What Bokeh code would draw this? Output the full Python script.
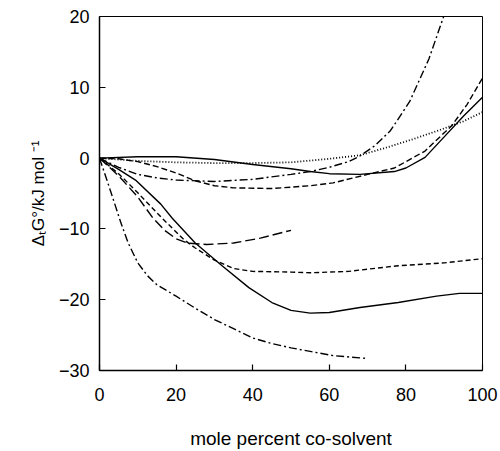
from bokeh.plotting import figure
from bokeh.models import Range1d
from bokeh.embed import file_html
from bokeh.resources import INLINE

# solid (upper)
xa = [0, 10, 20, 30, 40, 50, 55, 60, 68, 77, 80, 85, 90, 95, 100]
ya = [0, 0.2, 0.2, -0.2, -0.9, -1.5, -1.9, -2.2, -2.3, -1.9, -1.4, 0.1, 3.0, 5.9, 8.6]
# dotted
xdot = [0, 10, 20, 30, 40, 50, 60, 68, 75, 82, 89, 95, 100]
ydot = [0, -0.4, -0.6, -0.7, -0.7, -0.6, -0.1, 0.4, 1.5, 2.7, 4.0, 5.2, 6.5]
# dashed (upper, ends at ~11)
xb = [0, 5, 10, 15, 20, 25, 30, 35, 45, 55, 61, 70, 77, 85, 92, 96, 100]
yb = [0, -0.1, -0.5, -1.2, -2.1, -3.2, -3.9, -4.2, -4.3, -3.9, -3.5, -2.3, -1.4, 1.0, 4.6, 7.6, 11.3]
# dash-dot (steep rise)
xf = [0, 5, 10, 15, 20, 30, 40, 50, 55, 60, 65, 68, 72, 76, 81, 86, 90.5]
yf = [0, -1.3, -2.3, -2.8, -3.1, -3.3, -3.0, -2.3, -1.9, -1.3, -0.5, 0.3, 1.8, 3.9, 8.0, 14.0, 21.0]
# solid (lower)
xs = [0, 5, 9.4, 16, 19, 25, 32, 39, 45, 50, 55, 60, 68, 78, 88, 94, 100]
ys = [0, -1.6, -3.1, -6.5, -8.5, -12, -15.2, -18.3, -20.4, -21.5, -21.9, -21.8, -21.1, -20.4, -19.5, -19.1, -19.1]
# short dashed (lower)
xc = [0, 5, 10, 16, 22, 25, 30, 35, 40, 50, 55, 65, 78, 90, 100]
yc = [0, -2.2, -4.9, -8.3, -11.5, -12.7, -14.4, -15.6, -16.0, -16.1, -16.2, -16.0, -15.2, -14.8, -14.2]
# long dashed (ends at 50)
xd = [0, 5, 10, 14, 17, 20, 23, 28, 35, 42, 50]
yd = [0, -2.5, -5.5, -8.5, -10.2, -11.4, -12.0, -12.2, -12.0, -11.3, -10.2]
# dash-dot (lowest)
xe = [0, 2, 4, 5.5, 7.5, 10, 12.5, 15, 20, 25, 30, 35, 40, 45, 50, 55, 61, 70]
ye = [0, -3.2, -6.5, -9, -12, -14.8, -16.6, -17.9, -19.5, -21.2, -22.8, -24.1, -25.4, -26.2, -26.8, -27.3, -27.9, -28.3]

xticks = [0, 20, 40, 60, 80, 100]
yticks = [-30, -20, -10, 0, 10, 20]

p = figure(width=500, height=451, x_range=Range1d(0, 100), y_range=Range1d(-30, 20),
           output_backend="svg", toolbar_location=None,
           min_border_left=99, min_border_right=18, min_border_top=16, min_border_bottom=79)
p.background_fill_color = "white"
p.border_fill_color = "white"
p.outline_line_color = "black"
p.outline_line_width = 1
p.xgrid.visible = False
p.ygrid.visible = False

FONT = "Liberation Sans"
for ax in (p.xaxis[0], p.yaxis[0]):
    ax.major_tick_in = 6
    ax.major_tick_out = 0
    ax.minor_tick_in = 0
    ax.minor_tick_out = 0
    ax.axis_line_color = "black"
    ax.axis_line_width = 1.5
    ax.major_tick_line_color = "black"
    ax.major_tick_line_width = 1.2
    ax.major_label_text_font = FONT
    ax.major_label_text_font_size = "18px"
    ax.major_label_text_color = "black"
    ax.axis_label_text_font = FONT
    ax.axis_label_text_font_style = "normal"
    ax.axis_label_text_color = "black"

p.xaxis.ticker = xticks
p.yaxis.ticker = yticks
p.xaxis.axis_label = "mole percent co-solvent"
p.xaxis.axis_label_text_font_size = "19px"
p.xaxis.major_label_standoff = 17
p.xaxis.axis_label_standoff = 24
p.yaxis.axis_label = "\u0394\u209cG\u00b0/kJ mol \u207b\u00b9"
p.yaxis.axis_label_text_font_size = "17px"
p.yaxis.major_label_standoff = 10
p.yaxis.axis_label_standoff = 8

lw = 1.4
p.line(xa, ya, line_color="black", line_width=lw)
p.line(xdot, ydot, line_color="black", line_width=1.8, line_dash="1 2")
p.line(xb, yb, line_color="black", line_width=lw, line_dash="6 3")
p.line(xf, yf, line_color="black", line_width=lw, line_dash="8 3 2 3")
p.line(xs, ys, line_color="black", line_width=lw)
p.line(xc, yc, line_color="black", line_width=lw, line_dash="5 3")
p.line(xd, yd, line_color="black", line_width=lw, line_dash="10 4")
p.line(xe, ye, line_color="black", line_width=lw, line_dash="8 3 2 3")

open("out.html", "w").write(file_html(p, INLINE))
